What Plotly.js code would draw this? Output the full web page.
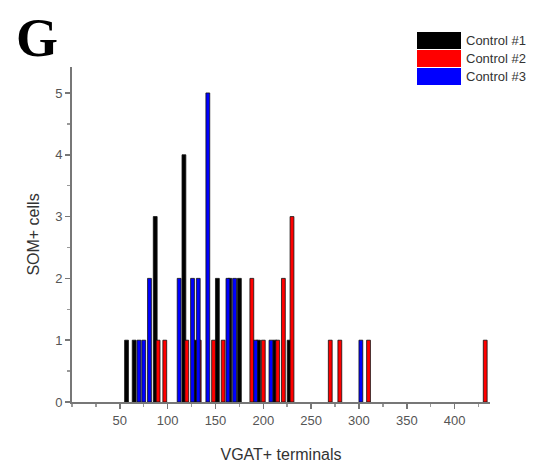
<!DOCTYPE html>
<html>
<head>
<meta charset="utf-8">
<script src="https://cdn.plot.ly/plotly-3.0.1.min.js"></script>
<style>html,body{margin:0;padding:0;background:#fff;}#chart{width:558px;height:468px;}</style>
</head>
<body>
<div id="chart"></div>
<script>
// Series names and colours
const seriesNames = ["Control #1", "Control #2", "Control #3"];
const seriesColors = ["#000000", "#ff0000", "#0000ff"];

// VGAT+ terminal counts (bin centres) and number of SOM+ cells per bin
const ctrl1X = [57, 65, 87, 117, 128, 152, 165, 175, 195, 212, 227];
const ctrl1Y = [1, 1, 3, 4, 1, 2, 2, 2, 1, 1, 1];

const ctrl2X = [90, 97, 120, 133, 148, 158, 188, 200, 215, 221, 230, 270, 280, 310, 432];
const ctrl2Y = [1, 1, 1, 1, 1, 1, 2, 1, 1, 2, 3, 1, 1, 1, 1];

const ctrl3X = [70, 75, 81, 112, 126, 132, 142, 163, 170, 192, 208, 302];
const ctrl3Y = [1, 1, 2, 2, 2, 2, 5, 2, 2, 1, 1, 1];

const xTickVals = [50, 100, 150, 200, 250, 300, 350, 400];
const yTickVals = [0, 1, 2, 3, 4, 5];

const xs = [ctrl1X, ctrl2X, ctrl3X];
const ys = [ctrl1Y, ctrl2Y, ctrl3Y];

const traces = xs.map((x, i) => ({
  type: "bar",
  x: x,
  y: ys[i],
  name: seriesNames[i],
  width: 4,
  marker: {color: seriesColors[i], line: {color: "#111", width: 0.8}},
  showlegend: false,
  hoverinfo: "x+y+name"
}));

// custom legend (swatches + labels)
const PL = 72, PR = 490, PT = 67, PB = 402;
const pw = PR - PL, ph = PB - PT;
const shapes = [];
const annotations = [];
seriesNames.forEach((n, i) => {
  const top = 32 + i * 18;
  shapes.push({type: "rect", xref: "paper", yref: "paper",
    x0: (417 - PL) / pw, x1: (461 - PL) / pw,
    y0: (PB - top) / ph, y1: (PB - top - 17) / ph,
    fillcolor: seriesColors[i], line: {width: 0}});
  annotations.push({xref: "paper", yref: "paper", x: (464 - PL) / pw, y: (PB - top - 8.5) / ph,
    xanchor: "left", yanchor: "middle", text: n, showarrow: false,
    font: {family: "Liberation Sans, Arial, sans-serif", size: 13, color: "#333"}});
});
annotations.push({xref: "paper", yref: "paper", x: (14 - PL) / pw, y: (PB - 6) / ph,
  xanchor: "left", yanchor: "top", text: "<b>G</b>", showarrow: false,
  font: {family: "Liberation Serif, Times New Roman, serif", size: 54, color: "#000"}});

const layout = {
  width: 558, height: 468,
  margin: {l: PL, r: 558 - PR, t: PT, b: 468 - PB},
  paper_bgcolor: "#fff", plot_bgcolor: "#fff",
  barmode: "overlay",
  font: {family: "Liberation Sans, Arial, sans-serif", size: 13, color: "#555"},
  xaxis: {
    range: [0, 437], tickvals: xTickVals, ticks: "outside", ticklen: 5, tickcolor: "#777", tickwidth: 1.5,
    showline: true, linecolor: "#777", linewidth: 2, showgrid: false, zeroline: false,
    minor: {dtick: 25, tick0: 0, ticks: "outside", ticklen: 3, tickcolor: "#999"},
    title: {text: "VGAT+ terminals", font: {size: 16, color: "#333"}, standoff: 22}
  },
  yaxis: {
    range: [0, 5.42], tickvals: yTickVals, ticks: "outside", ticklen: 5, tickcolor: "#777", tickwidth: 1.5,
    showline: true, linecolor: "#777", linewidth: 2, showgrid: false, zeroline: false,
    minor: {dtick: 0.5, tick0: 0, ticks: "outside", ticklen: 3, tickcolor: "#999"},
    title: {text: "SOM+ cells", font: {size: 16, color: "#333"}, standoff: 12}
  },
  shapes: shapes,
  annotations: annotations
};

Plotly.newPlot("chart", traces, layout, {displayModeBar: false, staticPlot: true});
</script>
</body>
</html>
